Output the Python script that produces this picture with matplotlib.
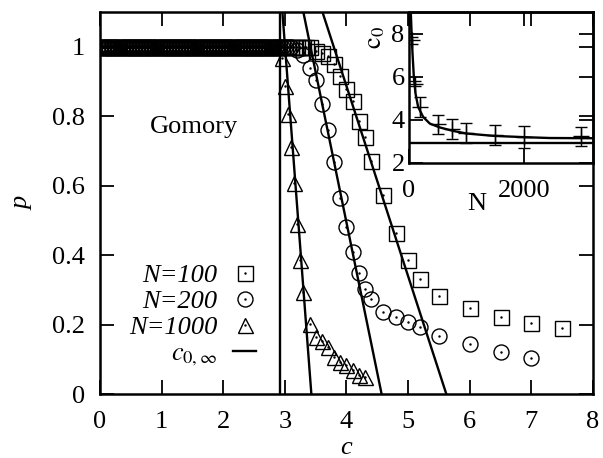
import numpy as np
import matplotlib
matplotlib.use('Agg')
import matplotlib.pyplot as plt
from matplotlib.legend_handler import HandlerTuple

plt.rcParams['font.family'] = ['Liberation Serif', 'DejaVu Serif']
plt.rcParams['mathtext.fontset'] = 'stix'
plt.rcParams['font.size'] = 19

# ---- main panel data: fraction p solved by Gomory cuts vs c ----
plateau_c = np.arange(0, 3.45, 0.05)   # p stays at 1 below the transition

c_100 = [3.5, 3.6, 3.7, 3.8, 3.9, 4.0, 4.1, 4.2, 4.3, 4.4, 4.6, 4.8, 5.0,
         5.2, 5.5, 6.0, 6.5, 7.0, 7.5]
p_100 = [0.989, 0.983, 0.974, 0.951, 0.917, 0.879, 0.845, 0.787, 0.739,
         0.672, 0.572, 0.463, 0.385, 0.330, 0.282, 0.247, 0.221, 0.204, 0.190]
last_plateau_100 = 3.4

c_200 = [3.2, 3.3, 3.4, 3.5, 3.6, 3.7, 3.8, 3.9, 4.0, 4.1, 4.2, 4.3, 4.4,
         4.6, 4.8, 5.0, 5.2, 5.5, 6.0, 6.5, 7.0]
p_200 = [0.990, 0.975, 0.940, 0.905, 0.836, 0.759, 0.667, 0.563, 0.480,
         0.408, 0.348, 0.302, 0.273, 0.236, 0.221, 0.207, 0.193, 0.167,
         0.144, 0.121, 0.103]
last_plateau_200 = 3.1

c_1000 = [2.95, 3.0, 3.05, 3.1, 3.15, 3.2, 3.25, 3.3, 3.4, 3.5, 3.6, 3.7,
          3.8, 3.9, 4.0, 4.1, 4.2, 4.3]
p_1000 = [0.968, 0.888, 0.807, 0.710, 0.609, 0.489, 0.385, 0.293, 0.201,
          0.164, 0.152, 0.135, 0.106, 0.092, 0.083, 0.069, 0.055, 0.049]
last_plateau_1000 = 2.9

# straight fits: c at the top of the frame (p=1.1) and at p=0
fit_p = [1.1, 0.0]
fit_c_100 = [3.61, 5.62]
fit_c_200 = [3.30, 4.57]
fit_c_1000 = [2.96, 3.43]

c_inf = 2.92

# ---- inset data: c0 vs N ----
N_pts = [50, 100, 200, 500, 750, 1000, 1500, 2000, 3000]
c0_pts = [7.71, 5.69, 4.60, 3.79, 3.57, 3.40, 3.29, 3.20, 3.24]
c0_err = [0.17, 0.13, 0.45, 0.45, 0.46, 0.46, 0.46, 0.50, 0.45]

N_fit = [35, 46, 64, 87, 116, 162, 249, 365, 540, 770, 1000, 1470, 2000,
         2450, 3200]
c0_fit = [8.95, 8.17, 7.09, 6.00, 5.23, 4.60, 4.14, 3.83, 3.65, 3.49, 3.37,
          3.26, 3.20, 3.16, 3.15]

fig = plt.figure(figsize=(6.03, 4.58), dpi=100)
ax = fig.add_axes([0.1658, 0.1397, 0.8176, 0.8341])

mk = dict(color='black', linestyle='none', markerfacecolor='none',
          markeredgewidth=1.0, markersize=10.8)
dot = dict(color='black', linestyle='none', marker='.', markersize=1.5)

series = [
    (c_100, p_100, last_plateau_100, 's', 'N=100'),
    (c_200, p_200, last_plateau_200, 'o', 'N=200'),
    (c_1000, p_1000, last_plateau_1000, '^', 'N=1000'),
]
leg_handles = []
leg_labels = []
for cs, ps, last, m, lab in series:
    pc = plateau_c[plateau_c <= last + 1e-9]
    xs = np.concatenate([pc, cs])
    ys = np.concatenate([np.ones(len(pc)), ps])
    h, = ax.plot(xs, ys, marker=m, **mk)
    d, = ax.plot(xs, ys, **dot)
    leg_handles.append((h, d))
    leg_labels.append(lab)

for fc in (fit_c_100, fit_c_200, fit_c_1000):
    ax.plot(fc, fit_p, color='black', lw=1.7)
vline = ax.axvline(c_inf, color='black', lw=1.7)
leg_handles.append(vline)
leg_labels.append(r'$c_{0,\infty}$')

ax.text(1.53, 0.77, 'Gomory', ha='center', va='center')

ax.set_xlim(0, 8)
ax.set_ylim(0, 1.1)
ax.set_xticks(range(0, 9))
ax.set_yticks([0, 0.2, 0.4, 0.6, 0.8, 1])
ax.set_yticklabels(['0', '0.2', '0.4', '0.6', '0.8', '1'])
ax.tick_params(direction='in', length=10, width=1.3, top=True, right=True)
ax.tick_params(axis='y', pad=11)
ax.tick_params(axis='x', pad=12)
for s in ax.spines.values():
    s.set_linewidth(1.8)
ax.set_xlabel('c', style='italic', labelpad=3)
ax.set_ylabel('p', style='italic', labelpad=13)

ax.legend(leg_handles, leg_labels, loc='center right',
          bbox_to_anchor=(0.3164, 0.205), frameon=False,
          markerfirst=False, handlelength=0.86, handletextpad=0.6,
          labelspacing=0.1, borderpad=0, borderaxespad=0,
          prop={'style': 'italic', 'size': 19},
          handler_map={tuple: HandlerTuple(ndivide=1, pad=0)})

# ---- inset ----
ins = fig.add_axes([0.678, 0.6442, 0.3054, 0.3296])
ins.patch.set_alpha(0)
ins.plot(N_fit, c0_fit, color='black', lw=1.7)
ins.errorbar(N_pts, c0_pts, yerr=c0_err, fmt='+', color='black',
             markersize=11, mew=1.0, elinewidth=1.0, capsize=4, capthick=1.0)
ins.axhline(c_inf, color='black', lw=1.7)
ins.set_xlim(0, 3200)
ins.set_ylim(2, 9.02)
ins.set_xticks([0, 2000])
ins.set_yticks([2, 4, 6, 8])
ins.tick_params(direction='in', length=10, width=1.3, top=True, right=True)
ins.tick_params(axis='y', pad=3)
ins.tick_params(axis='x', pad=12)
for s in ins.spines.values():
    s.set_linewidth(1.8)
ins.set_xlabel('N')
ins.xaxis.set_label_coords(0.37, -0.2)
ins.set_ylabel(r'$\mathrm{c}_0$')
ins.yaxis.set_label_coords(-0.12, 0.83)

fig.savefig('out.png', dpi=100)
